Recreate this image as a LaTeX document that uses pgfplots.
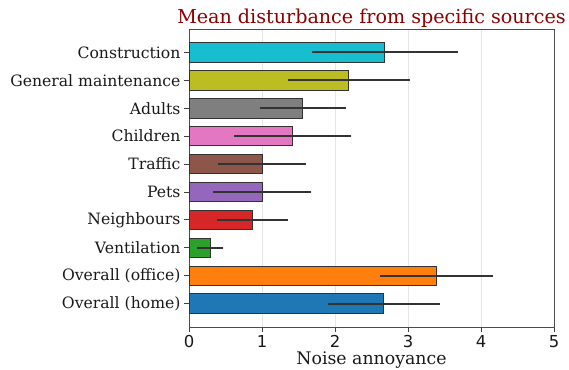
\documentclass[border=0pt]{standalone}
\usepackage{fontspec}
\setmainfont{DejaVu Serif}
\newfontfamily\sansf{DejaVu Sans}
\usepackage{pgfplots}
\pgfplotsset{compat=1.18}
\definecolor{c0}{HTML}{1F77B4}
\definecolor{c1}{HTML}{FF7F0E}
\definecolor{c2}{HTML}{2CA02C}
\definecolor{c3}{HTML}{D62728}
\definecolor{c4}{HTML}{9467BD}
\definecolor{c5}{HTML}{8C564B}
\definecolor{c6}{HTML}{E377C2}
\definecolor{c7}{HTML}{7F7F7F}
\definecolor{c8}{HTML}{BCBD22}
\definecolor{c9}{HTML}{17BECF}
\definecolor{darkred}{HTML}{8B0000}
\begin{document}
\begin{tikzpicture}
\path[use as bounding box] (-189bp,-43bp) rectangle (380bp,327bp);
\begin{axis}[
  at={(0,0)}, anchor=south west,
  scale only axis, width=365bp, height=298bp,
  xbar, bar width=0.7, bar shift=0pt,
  xmin=0, xmax=5, ymin=-0.835, ymax=9.835,
  xtick={0,1,2,3,4,5}, xticklabels={0,1,2,3,4,5},
  ytick={0,1,2,3,4,5,6,7,8,9},
  yticklabels={Overall (home),Overall (office),Ventilation,Neighbours,Pets,Traffic,Children,Adults,General maintenance,Construction},
  tick align=outside, xtick pos=bottom, ytick pos=left,
  major tick length=5bp,
  tick style={black!75, line width=0.8bp},
  axis line style={black!70, line width=0.8bp},
  xmajorgrids, major grid style={gray!20, line width=0.8bp},
  xticklabel style={font=\sansf\fontsize{16.5}{18}\selectfont, text=black!90},
  yticklabel style={font=\fontsize{15.7}{18}\selectfont, text=black!90},
  title={Mean disturbance from specific sources},
  title style={font=\fontsize{19.2}{21}\selectfont, text=darkred, at={(0.5,1)}, anchor=base, yshift=0bp},
  xlabel={Noise annoyance},
  xlabel style={font=\fontsize{17.4}{19}\selectfont, text=black!90, at={(0.5,0)}, anchor=base, yshift=-37bp},
  every axis plot/.append style={draw=black!80, line width=0.9bp,
    error bars/x dir=both, error bars/x explicit, error bars/error mark=none,
    error bars/error bar style={black!80, line width=1.7bp}},
]
\addplot[fill=c0] coordinates {(2.67,0) +- (0.77,0)};
\addplot[fill=c1] coordinates {(3.39,1) +- (0.78,0)};
\addplot[fill=c2] coordinates {(0.29,2) +- (0.18,0)};
\addplot[fill=c3] coordinates {(0.87,3) +- (0.49,0)};
\addplot[fill=c4] coordinates {(1.00,4) +- (0.67,0)};
\addplot[fill=c5] coordinates {(1.00,5) +- (0.60,0)};
\addplot[fill=c6] coordinates {(1.42,6) +- (0.80,0)};
\addplot[fill=c7] coordinates {(1.56,7) +- (0.59,0)};
\addplot[fill=c8] coordinates {(2.19,8) +- (0.84,0)};
\addplot[fill=c9] coordinates {(2.68,9) +- (1.00,0)};
\end{axis}
\end{tikzpicture}
\end{document}
